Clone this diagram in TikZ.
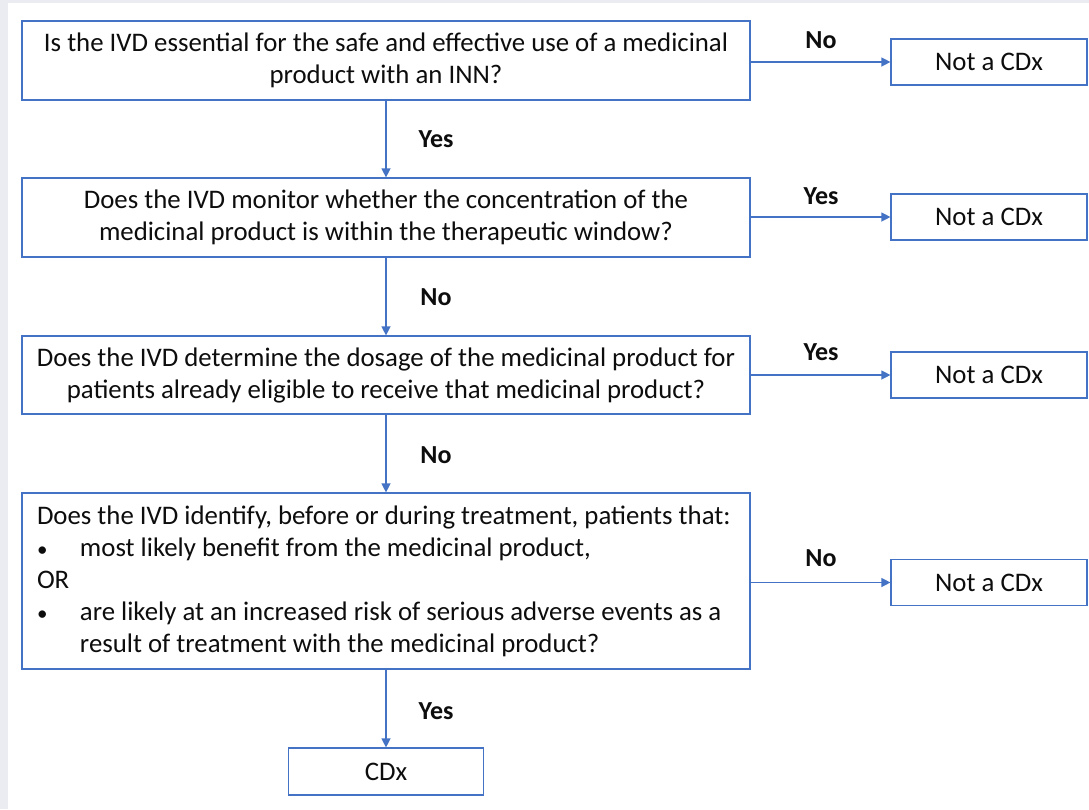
\documentclass[tikz,border=0pt]{standalone}
\usepackage{fontspec}
\setmainfont{Carlito}
\usetikzlibrary{arrows.meta}
\definecolor{boxblue}{HTML}{4472C4}
\definecolor{txt}{HTML}{0D0D0D}
\definecolor{sidegray}{HTML}{EBECF1}
\newcommand{\smbullet}{\makebox[43pt][l]{\fontsize{21}{32}\selectfont\textbullet}}
\begin{document}
\begin{tikzpicture}[x=1pt,y=-1pt,
  every node/.style={text=txt,font=\fontsize{26.8}{32}\selectfont},
  qbox/.style={draw=boxblue,line width=1.2pt,minimum width=728pt,inner sep=0pt,align=center},
  rbox/.style={draw=boxblue,line width=1.2pt,minimum width=196pt,minimum height=46pt,inner sep=0pt},
  conn/.style={draw=boxblue,line width=1.3pt,-{Triangle[length=9pt,width=9pt]}},
  lbl/.style={font=\fontsize{26}{30}\selectfont\bfseries}]
\useasboundingbox (0,0) rectangle (1089,809);
\fill[white] (0,0) rectangle (1089,809);
\fill[sidegray] (0,0) rectangle (8,809);
\fill[sidegray] (0,0) rectangle (1089,3);

\node[qbox,minimum height=79pt] (b1) at (386,60.5) {Is the IVD essential for the safe and effective use of a medicinal\\product with an INN?};
\node[qbox,minimum height=79pt] (b2) at (386,217.5) {Does the IVD monitor whether the concentration of the\\medicinal product is within the therapeutic window?};
\node[qbox,minimum height=78pt] (b3) at (386,375) {Does the IVD determine the dosage of the medicinal product for\\patients already eligible to receive that medicinal product?};
\node[qbox,minimum height=176pt,align=flush left,text width=698pt,inner xsep=15pt] (b4) at (386,581) {Does the IVD identify, before or during treatment, patients that:\\
\smbullet most likely benefit from the medicinal product,\\
OR\\
\smbullet are likely at an increased risk of serious adverse events as a\\
\hspace*{43pt}result of treatment with the medicinal product?};
\node[draw=boxblue,line width=1.2pt,minimum width=195pt,minimum height=47pt,inner sep=0pt] (cdx) at (386,771.5) {CDx};

\node[rbox] (n1) at (989,62) {Not a CDx};
\node[rbox] (n2) at (989,217) {Not a CDx};
\node[rbox] (n3) at (989,375) {Not a CDx};
\node[rbox] (n4) at (989,582.5) {Not a CDx};

\draw[conn] (b1.south) -- (b2.north);
\draw[conn] (b2.south) -- (b3.north);
\draw[conn] (b3.south) -- (b4.north);
\draw[conn] (b4.south) -- (cdx.north);

\draw[conn] (b1.east |- n1.west) -- (n1.west);
\draw[conn] (b2.east |- n2.west) -- (n2.west);
\draw[conn] (b3.east |- n3.west) -- (n3.west);
\draw[conn] (b4.east |- n4.west) -- (n4.west);

\node[lbl] (l1) at (436,139) {Yes};
\node[lbl] (l2) at (436,297) {No};
\node[lbl] (l3) at (436,455) {No};
\node[lbl] (l4) at (436,711) {Yes};
\node[lbl] (r1) at (821,40) {No};
\node[lbl] (r2) at (821,196) {Yes};
\node[lbl] (r3) at (821,352) {Yes};
\node[lbl] (r4) at (821,558) {No};
\end{tikzpicture}
\end{document}
